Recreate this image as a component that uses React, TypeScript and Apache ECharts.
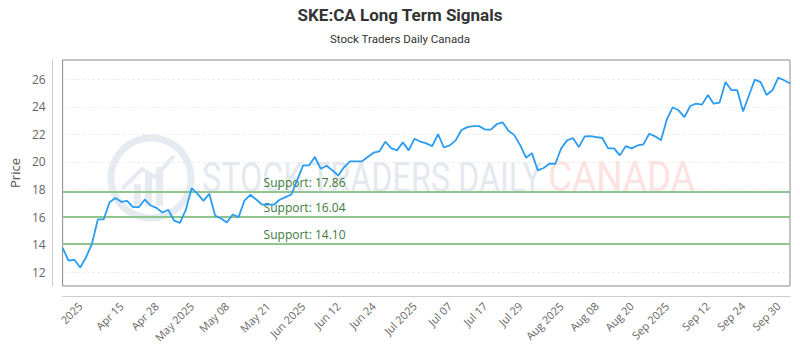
import React, { useEffect, useRef } from "react";
import * as echarts from "echarts";

const prices: number[] = [
  13.77, 12.85, 12.9, 12.34, 13.09, 14.06, 15.83, 15.83, 17.08, 17.38,
  17.11, 17.18, 16.72, 16.72, 17.28, 16.84, 16.67, 16.33, 16.53, 15.75,
  15.58, 16.53, 18.1, 17.69, 17.18, 17.69, 16.12, 15.9, 15.61, 16.19,
  16.0, 17.2, 17.62, 17.28, 16.9, 16.9, 16.9, 17.26, 17.45, 17.64,
  18.7, 19.75, 19.75, 20.36, 19.51, 19.73, 19.39, 19.02, 19.63, 20.04,
  20.04, 20.04, 20.36, 20.67, 20.77, 21.47, 21.0, 20.84, 21.42, 20.84,
  21.69, 21.47, 21.35, 21.15, 22.02, 21.05, 21.2, 21.57, 22.32, 22.53,
  22.6, 22.6, 22.35, 22.35, 22.74, 22.88, 22.27, 21.95, 21.22, 20.31,
  20.64, 19.39, 19.56, 19.87, 19.87, 21.0, 21.57, 21.74, 21.08, 21.86,
  21.88, 21.81, 21.74, 20.99, 20.99, 20.48, 21.15, 20.99, 21.2, 21.28,
  22.05, 21.86, 21.57, 23.09, 23.97, 23.75, 23.26, 24.06, 24.23, 24.16,
  24.86, 24.23, 24.31, 25.8, 25.22, 25.22, 23.67, 24.82, 25.98, 25.8,
  24.86, 25.2, 26.12, 25.93, 25.69,
];

const tickLabels: string[] = [
  "2025", "Apr 15", "Apr 28", "May 2025", "May 08", "May 21", "Jun 2025",
  "Jun 12", "Jun 24", "Jul 2025", "Jul 07", "Jul 17", "Jul 29", "Aug 2025",
  "Aug 08", "Aug 20", "Sep 2025", "Sep 12", "Sep 24", "Sep 30",
];
const tickIndices: number[] = [
  3, 10, 16, 22, 28, 35, 41, 47, 53, 60, 66, 72, 78, 85, 91, 97, 103, 110, 116, 122,
];

const yGridValues: number[] = [12, 14, 16, 18, 20, 22, 24, 26];
const supportLevels: number[] = [17.86, 16.04, 14.1];

const categories: string[] = prices.map((_, i) => String(i));

export default function App() {
  const ref = useRef<HTMLDivElement>(null);
  useEffect(() => {
    if (!ref.current) return;
    const chart = echarts.init(ref.current, null, { renderer: "svg" });
    const labelFont = "'Open Sans', 'Noto Sans', sans-serif";
    const titleFont = "Roboto, 'Noto Sans', sans-serif";
    const wmFont = "Roboto, sans-serif";
    const wmColor = "#e4e9f0";
    const markData: any[] = [
      ...yGridValues.map((v) => ({
        yAxis: v,
        label: { show: false },
        lineStyle: { color: "#e6e6e6", type: [2, 3], width: 1 },
      })),
      ...supportLevels.map((v) => ({
        yAxis: v,
        label: {
          show: true,
          position: "insideStartTop",
          formatter: "Support: " + v.toFixed(2),
          color: "#3b7a3b",
          fontSize: 12,
          fontFamily: labelFont,
          padding: [0, 0, 0, 198],
          distance: 3,
        },
        lineStyle: { color: "#8ec68e", type: "solid", width: 2 },
      })),
    ];
    chart.setOption({
      animation: false,
      backgroundColor: "#ffffff",
      title: {
        text: "SKE:CA Long Term Signals",
        subtext: "Stock Traders Daily Canada",
        left: "center",
        top: 1,
        itemGap: 10,
        textStyle: {
          fontFamily: titleFont,
          fontWeight: "bold",
          fontSize: 17,
          color: "#333333",
        },
        subtextStyle: {
          fontFamily: titleFont,
          fontSize: 11.5,
          color: "#333333",
        },
      },
      graphic: [
        {
          type: "group",
          z: 0,
          silent: true,
          children: [
            {
              type: "circle",
              shape: { cx: 151, cy: 178, r: 40 },
              style: { fill: "none", stroke: "#e6ebf2", lineWidth: 7 },
            },
            { type: "rect", shape: { x: 134, y: 184, width: 7, height: 22 }, style: { fill: "#e6ebf2" } },
            { type: "rect", shape: { x: 145, y: 174, width: 7, height: 32 }, style: { fill: "#e6ebf2" } },
            { type: "rect", shape: { x: 156, y: 167, width: 7, height: 39 }, style: { fill: "#e6ebf2" } },
            {
              type: "polyline",
              shape: { points: [[122, 189], [142, 169], [155, 177], [174, 156]] },
              style: { fill: "none", stroke: "#e6ebf2", lineWidth: 4 },
            },
            {
              type: "text",
              x: 202,
              y: 177,
              scaleX: 0.77,
              style: {
                text: "STOCK TRADERS DAILY",
                font: "42px " + wmFont,
                fill: wmColor,
                verticalAlign: "middle",
                align: "left",
              },
            },
            {
              type: "text",
              x: 548,
              y: 177,
              scaleX: 0.88,
              style: {
                text: "CANADA",
                font: "42px " + wmFont,
                fill: "#fde2e2",
                verticalAlign: "middle",
                align: "left",
              },
            },
          ],
        },
      ],
      grid: {
        left: 60,
        right: 10,
        top: 60,
        bottom: 64,
        show: true,
        borderColor: "#8a8a8a",
        borderWidth: 1,
        backgroundColor: "transparent",
      },
      xAxis: {
        type: "category",
        data: categories,
        boundaryGap: false,
        offset: 10,
        axisLine: { show: true, lineStyle: { color: "#cccccc" } },
        axisTick: { show: false },
        splitLine: { show: false },
        axisLabel: {
          rotate: 45,
          margin: 8,
          color: "#666666",
          fontSize: 11,
          fontFamily: labelFont,
          interval: (index: number) => tickIndices.includes(index),
          formatter: (_v: string, index: number) => {
            const k = tickIndices.indexOf(index);
            return k >= 0 ? tickLabels[k] : "";
          },
        },
      },
      yAxis: {
        type: "value",
        min: 11,
        max: 27.4,
        interval: 1,
        offset: 10,
        name: "Price",
        nameLocation: "middle",
        nameGap: 30,
        nameTextStyle: { color: "#555555", fontSize: 13, fontFamily: labelFont },
        axisLine: { show: true, lineStyle: { color: "#cccccc" } },
        axisTick: { show: false },
        splitLine: { show: false },
        axisLabel: {
          margin: 7,
          color: "#666666",
          fontSize: 12,
          fontFamily: labelFont,
          formatter: (v: number) => (Number.isInteger(v) && v % 2 === 0 ? String(v) : ""),
        },
      },
      series: [
        {
          type: "line",
          data: prices,
          showSymbol: false,
          symbol: "none",
          z: 3,
          lineStyle: { color: "#2b9cf2", width: 1.8 },
          itemStyle: { color: "#2b9cf2" },
          markLine: {
            silent: true,
            symbol: ["none", "none"],
            z: 2,
            data: markData,
          },
        },
      ],
    });
    return () => chart.dispose();
  }, []);
  return (
    <div
      ref={ref}
      style={{ position: "fixed", left: 0, top: 0, width: 800, height: 350 }}
    />
  );
}
